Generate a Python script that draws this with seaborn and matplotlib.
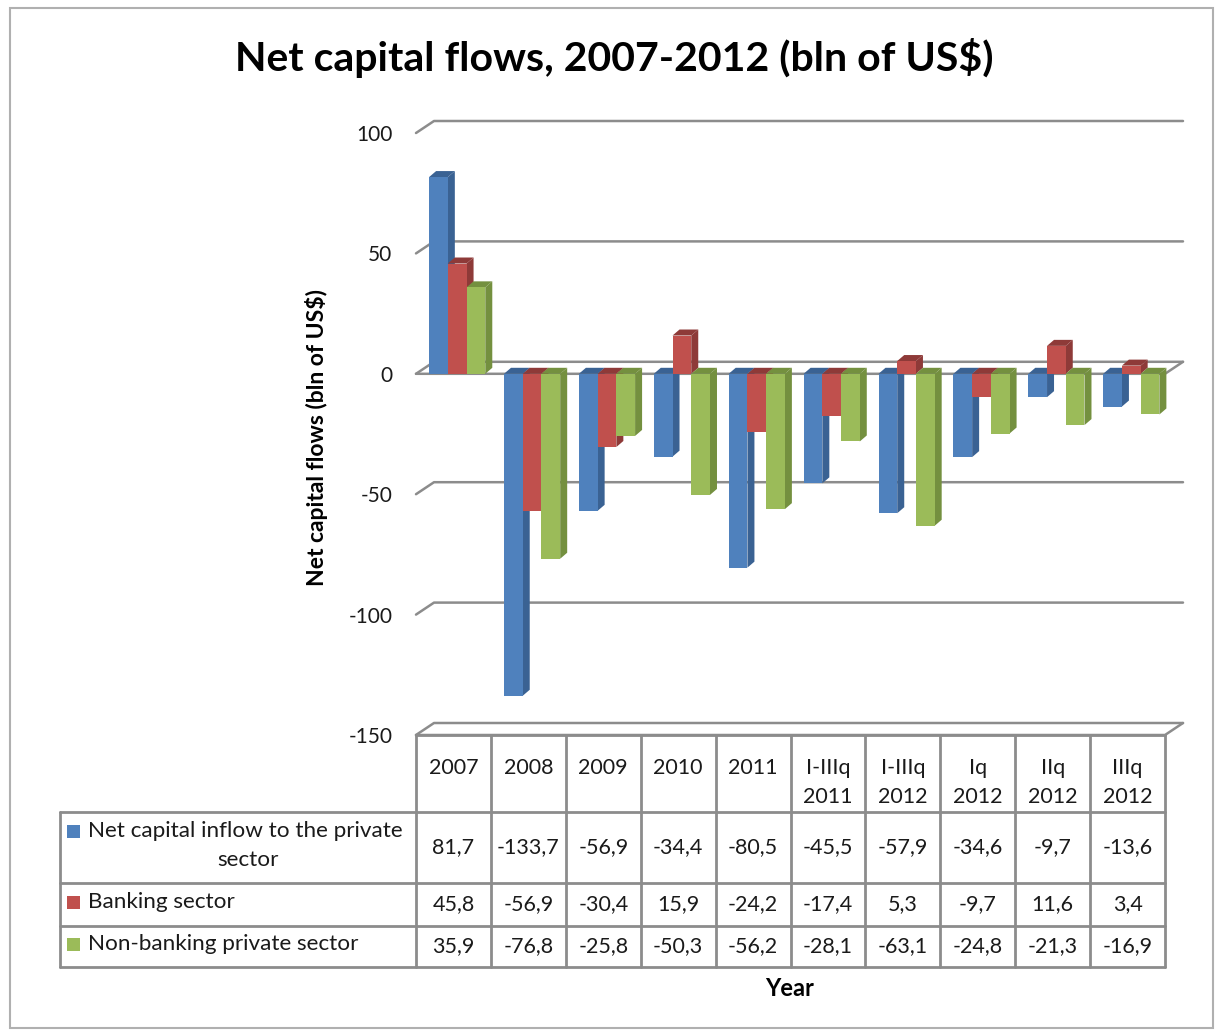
import numpy as np
import pandas as pd
import matplotlib
matplotlib.use("Agg")
import matplotlib.pyplot as plt
import seaborn as sns
from matplotlib.patches import Polygon, Rectangle
from matplotlib.lines import Line2D
from matplotlib.transforms import IdentityTransform

periods = ["2007", "2008", "2009", "2010", "2011",
           "I-IIIq\n2011", "I-IIIq\n2012", "Iq\n2012", "IIq\n2012", "IIIq\n2012"]
series_names = ["Net capital inflow to the private\nsector",
                "Banking sector",
                "Non-banking private sector"]
net_inflow = [81.7, -133.7, -56.9, -34.4, -80.5, -45.5, -57.9, -34.6, -9.7, -13.6]
banking = [45.8, -56.9, -30.4, 15.9, -24.2, -17.4, 5.3, -9.7, 11.6, 3.4]
non_banking = [35.9, -76.8, -25.8, -50.3, -56.2, -28.1, -63.1, -24.8, -21.3, -16.9]
y_ticks = [-150, -100, -50, 0, 50, 100]

colors = ["#4F81BD", "#C0504D", "#9BBB59"]
sides = ["#3A6293", "#8E3A38", "#74903F"]
grid_col = "#8C8C8C"
txt_col = "#1a1a1a"
font = "Lato"

W, H = 1215, 1030
fig = plt.figure(figsize=(W / 100, H / 100), dpi=100)
sns.set_style("white")
plt.rcParams["font.family"] = [font, "DejaVu Sans"]

def fr(x, y):
    # pixel (from top-left) -> figure fraction
    return x / W, 1 - y / H

ax_l, ax_r, ax_t, ax_b = 416, 1165, 133, 735
ax = fig.add_axes([ax_l / W, 1 - ax_b / H, (ax_r - ax_l) / W, (ax_b - ax_t) / H])
ax.set_zorder(2)
ax.patch.set_alpha(0)

df = pd.DataFrame({
    "period": periods * 3,
    "series": sum([[s] * len(periods) for s in series_names], []),
    "value": net_inflow + banking + non_banking,
})
sns.barplot(data=df, x="period", y="value", hue="series", order=periods,
            hue_order=series_names, palette=colors, saturation=1, width=0.75,
            dodge=True, legend=False, ax=ax, linewidth=0)
ax.set_xlim(-0.55, len(periods) - 0.55)
ax.set_ylim(-150, 100)
ax.set_yticks(y_ticks)
ax.set_yticklabels([str(t) for t in y_ticks], fontsize=15, color=txt_col)
ax.tick_params(axis="y", length=0, pad=17)
ax.set_xticks([])
ax.set_xlabel("")
ax.set_ylabel("")
for sp in ax.spines.values():
    sp.set_visible(False)

ident = IdentityTransform()

def disp(x, v):
    return ax.transData.transform((x, v))

x_lo, x_hi = ax.get_xlim()

# walls / gridlines (3D look)
gdx, gdy = 18, 12
for t in y_ticks:
    x0, y0 = disp(x_lo, t)
    x1, _ = disp(x_hi, t)
    fig.add_artist(Line2D([x0, x0 + gdx, x1 + gdx], [y0, y0 + gdy, y0 + gdy],
                          color=grid_col, lw=1.8, transform=ident, zorder=1))
    if t in (0, -150):
        fig.add_artist(Line2D([x0, x1, x1 + gdx], [y0, y0, y0 + gdy],
                              color=grid_col, lw=1.8, transform=ident, zorder=1))

# 3D bar faces
bdx, bdy = 7, 6
for i, cont in enumerate(ax.containers):
    for p in cont.patches:
        p.set_zorder(3 + i)
        x0, y0 = ax.transData.transform((p.get_x(), p.get_y()))
        x1, y1 = ax.transData.transform((p.get_x() + p.get_width(), p.get_y() + p.get_height()))
        lo, hi = min(y0, y1), max(y0, y1)
        side = Polygon([[x1, lo], [x1 + bdx, lo + bdy], [x1 + bdx, hi + bdy], [x1, hi]],
                       closed=True, facecolor=sides[i], edgecolor="none",
                       transform=ident, zorder=3 + i - 0.5)
        top = Polygon([[x0, hi], [x0 + bdx, hi + bdy], [x1 + bdx, hi + bdy], [x1, hi]],
                      closed=True, facecolor=sides[i], edgecolor="none",
                      transform=ident, zorder=3 + i - 0.5)
        ax.add_artist(side)
        ax.add_artist(top)
        side.set_clip_on(False)
        top.set_clip_on(False)

# data table
col_edges = [disp(x_lo + k, 0)[0] for k in range(len(periods) + 1)]
row_y = [735, 812, 883, 926, 967]
lab_l = 60
tline = dict(color=grid_col, lw=2, transform=ident, zorder=1)

def hline(x0, x1, y):
    fig.add_artist(Line2D([x0, x1], [H - y, H - y], **tline))

def vline(x, y0, y1):
    fig.add_artist(Line2D([x, x], [H - y0, H - y1], **tline))

hline(col_edges[0], col_edges[-1], row_y[0])
for y in row_y[1:]:
    hline(lab_l, col_edges[-1], y)
for x in col_edges:
    vline(x, row_y[0], row_y[-1])
vline(lab_l, row_y[1], row_y[-1])

for k, lab in enumerate(periods):
    cx = (col_edges[k] + col_edges[k + 1]) / 2
    for j, part in enumerate(lab.split("\n")):
        fig.text(*fr(cx, 768 + 29 * j), part, ha="center", va="center",
                 fontsize=15.5, color=txt_col)

all_vals = [net_inflow, banking, non_banking]
for r, (name, vals) in enumerate(zip(series_names, all_vals)):
    cy = (row_y[r + 1] + row_y[r + 2]) / 2
    for k, v in enumerate(vals):
        cx = (col_edges[k] + col_edges[k + 1]) / 2
        fig.text(*fr(cx, cy), f"{v:.1f}".replace(".", ","), ha="center", va="center",
                 fontsize=15.5, color=txt_col)
    if r == 0:
        first, second = name.split("\n")
        fig.text(*fr(88, 831), first, ha="left", va="center", fontsize=16.2, color=txt_col)
        fig.text(*fr(248, 860), second, ha="center", va="center", fontsize=16.2, color=txt_col)
        sq_y = 831
    else:
        fig.text(*fr(88, cy - 2), name, ha="left", va="center", fontsize=16.2, color=txt_col)
        sq_y = cy - 2
    sq = 13
    fig.add_artist(Rectangle((67, H - sq_y - sq / 2), sq, sq, facecolor=colors[r],
                             edgecolor="none", transform=ident))

# titles
fig.text(*fr(614, 58), "Net capital flows, 2007-2012 (bln of US$)", ha="center", va="center",
         fontsize=29.5, fontweight="bold", color="black")
fig.text(*fr(316, 437), "Net capital flows (bln of US$)", ha="center", va="center",
         rotation=90, fontsize=16.5, fontweight="bold", color="black")
fig.text(*fr(790, 988), "Year", ha="center", va="center", fontsize=17,
         fontweight="bold", color="black")

fig.add_artist(Rectangle((10, 2), W - 12, H - 10, facecolor="none", edgecolor="#B0B0B0",
                         lw=1.5, transform=ident))

fig.savefig("out.png", dpi=100)
